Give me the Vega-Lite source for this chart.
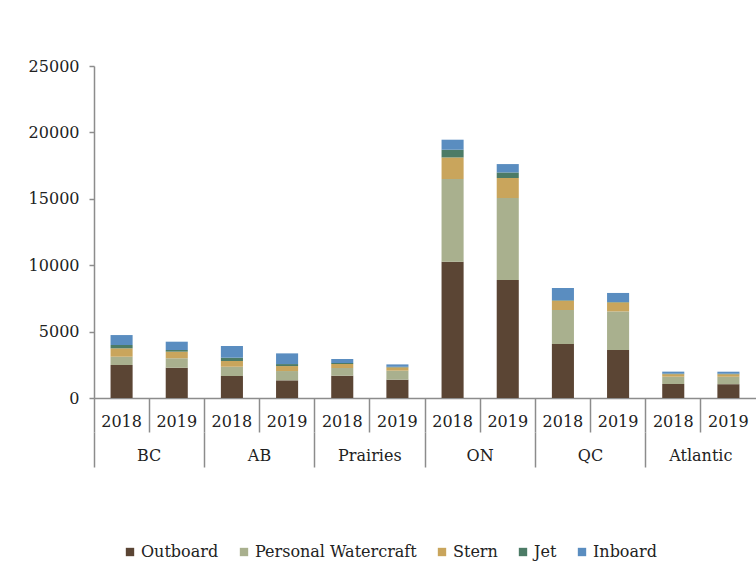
{
  "$schema": "https://vega.github.io/schema/vega-lite/v6.json",
  "autosize": "none",
  "padding": {"left": 94, "top": 66, "right": 0, "bottom": 165},
  "width": 662,
  "height": 332,
  "background": "white",
  "config": {
    "view": {"stroke": null},
    "font": "DejaVu Serif",
    "axis": {"labelFont": "DejaVu Serif", "labelFontSize": 16, "labelColor": "#222222", "domainColor": "#8c8c8c", "tickColor": "#8c8c8c", "grid": false, "title": null}
  },
  "data": {"values": [
    {"bar": "BC 2018", "region": "BC", "type": "Outboard", "rank": 1, "count": 2485},
    {"bar": "BC 2018", "region": "BC", "type": "Personal Watercraft", "rank": 2, "count": 625},
    {"bar": "BC 2018", "region": "BC", "type": "Stern", "rank": 3, "count": 630},
    {"bar": "BC 2018", "region": "BC", "type": "Jet", "rank": 4, "count": 250},
    {"bar": "BC 2018", "region": "BC", "type": "Inboard", "rank": 5, "count": 750},
    {"bar": "BC 2019", "region": "BC", "type": "Outboard", "rank": 1, "count": 2280},
    {"bar": "BC 2019", "region": "BC", "type": "Personal Watercraft", "rank": 2, "count": 710},
    {"bar": "BC 2019", "region": "BC", "type": "Stern", "rank": 3, "count": 500},
    {"bar": "BC 2019", "region": "BC", "type": "Jet", "rank": 4, "count": 125},
    {"bar": "BC 2019", "region": "BC", "type": "Inboard", "rank": 5, "count": 625},
    {"bar": "AB 2018", "region": "AB", "type": "Outboard", "rank": 1, "count": 1655},
    {"bar": "AB 2018", "region": "AB", "type": "Personal Watercraft", "rank": 2, "count": 700},
    {"bar": "AB 2018", "region": "AB", "type": "Stern", "rank": 3, "count": 430},
    {"bar": "AB 2018", "region": "AB", "type": "Jet", "rank": 4, "count": 250},
    {"bar": "AB 2018", "region": "AB", "type": "Inboard", "rank": 5, "count": 880},
    {"bar": "AB 2019", "region": "AB", "type": "Outboard", "rank": 1, "count": 1330},
    {"bar": "AB 2019", "region": "AB", "type": "Personal Watercraft", "rank": 2, "count": 700},
    {"bar": "AB 2019", "region": "AB", "type": "Stern", "rank": 3, "count": 375},
    {"bar": "AB 2019", "region": "AB", "type": "Jet", "rank": 4, "count": 150},
    {"bar": "AB 2019", "region": "AB", "type": "Inboard", "rank": 5, "count": 805},
    {"bar": "Prairies 2018", "region": "Prairies", "type": "Outboard", "rank": 1, "count": 1680},
    {"bar": "Prairies 2018", "region": "Prairies", "type": "Personal Watercraft", "rank": 2, "count": 580},
    {"bar": "Prairies 2018", "region": "Prairies", "type": "Stern", "rank": 3, "count": 300},
    {"bar": "Prairies 2018", "region": "Prairies", "type": "Jet", "rank": 4, "count": 75},
    {"bar": "Prairies 2018", "region": "Prairies", "type": "Inboard", "rank": 5, "count": 300},
    {"bar": "Prairies 2019", "region": "Prairies", "type": "Outboard", "rank": 1, "count": 1380},
    {"bar": "Prairies 2019", "region": "Prairies", "type": "Personal Watercraft", "rank": 2, "count": 680},
    {"bar": "Prairies 2019", "region": "Prairies", "type": "Stern", "rank": 3, "count": 250},
    {"bar": "Prairies 2019", "region": "Prairies", "type": "Jet", "rank": 4, "count": 40},
    {"bar": "Prairies 2019", "region": "Prairies", "type": "Inboard", "rank": 5, "count": 180},
    {"bar": "ON 2018", "region": "ON", "type": "Outboard", "rank": 1, "count": 10265},
    {"bar": "ON 2018", "region": "ON", "type": "Personal Watercraft", "rank": 2, "count": 6225},
    {"bar": "ON 2018", "region": "ON", "type": "Stern", "rank": 3, "count": 1625},
    {"bar": "ON 2018", "region": "ON", "type": "Jet", "rank": 4, "count": 580},
    {"bar": "ON 2018", "region": "ON", "type": "Inboard", "rank": 5, "count": 755},
    {"bar": "ON 2019", "region": "ON", "type": "Outboard", "rank": 1, "count": 8885},
    {"bar": "ON 2019", "region": "ON", "type": "Personal Watercraft", "rank": 2, "count": 6175},
    {"bar": "ON 2019", "region": "ON", "type": "Stern", "rank": 3, "count": 1505},
    {"bar": "ON 2019", "region": "ON", "type": "Jet", "rank": 4, "count": 420},
    {"bar": "ON 2019", "region": "ON", "type": "Inboard", "rank": 5, "count": 630},
    {"bar": "QC 2018", "region": "QC", "type": "Outboard", "rank": 1, "count": 4065},
    {"bar": "QC 2018", "region": "QC", "type": "Personal Watercraft", "rank": 2, "count": 2560},
    {"bar": "QC 2018", "region": "QC", "type": "Stern", "rank": 3, "count": 700},
    {"bar": "QC 2018", "region": "QC", "type": "Jet", "rank": 4, "count": 40},
    {"bar": "QC 2018", "region": "QC", "type": "Inboard", "rank": 5, "count": 920},
    {"bar": "QC 2019", "region": "QC", "type": "Outboard", "rank": 1, "count": 3615},
    {"bar": "QC 2019", "region": "QC", "type": "Personal Watercraft", "rank": 2, "count": 2905},
    {"bar": "QC 2019", "region": "QC", "type": "Stern", "rank": 3, "count": 680},
    {"bar": "QC 2019", "region": "QC", "type": "Jet", "rank": 4, "count": 30},
    {"bar": "QC 2019", "region": "QC", "type": "Inboard", "rank": 5, "count": 680},
    {"bar": "Atlantic 2018", "region": "Atlantic", "type": "Outboard", "rank": 1, "count": 1055},
    {"bar": "Atlantic 2018", "region": "Atlantic", "type": "Personal Watercraft", "rank": 2, "count": 550},
    {"bar": "Atlantic 2018", "region": "Atlantic", "type": "Stern", "rank": 3, "count": 190},
    {"bar": "Atlantic 2018", "region": "Atlantic", "type": "Jet", "rank": 4, "count": 40},
    {"bar": "Atlantic 2018", "region": "Atlantic", "type": "Inboard", "rank": 5, "count": 150},
    {"bar": "Atlantic 2019", "region": "Atlantic", "type": "Outboard", "rank": 1, "count": 1040},
    {"bar": "Atlantic 2019", "region": "Atlantic", "type": "Personal Watercraft", "rank": 2, "count": 560},
    {"bar": "Atlantic 2019", "region": "Atlantic", "type": "Stern", "rank": 3, "count": 190},
    {"bar": "Atlantic 2019", "region": "Atlantic", "type": "Jet", "rank": 4, "count": 40},
    {"bar": "Atlantic 2019", "region": "Atlantic", "type": "Inboard", "rank": 5, "count": 150}
  ]},
  "layer": [
    {
      "mark": {"type": "bar", "width": {"band": 0.4}},
      "encoding": {
        "x": {
          "field": "bar", "type": "nominal", "sort": null,
          "scale": {"type": "band", "paddingInner": 0, "paddingOuter": 0},
          "axis": {"labelAngle": 0, "labelExpr": "split(datum.label, ' ')[1]", "bandPosition": 0, "tickSize": 34, "labelPadding": -19, "labelFontSize": 16, "domainWidth": 1.5, "tickWidth": 1.5}
        },
        "y": {
          "field": "count", "type": "quantitative", "stack": "zero",
          "scale": {"domain": [0, 25000], "nice": false},
          "axis": {"values": [0, 5000, 10000, 15000, 20000, 25000], "format": "d", "tickSize": 5, "labelPadding": 10, "domainWidth": 1.5, "tickWidth": 1.5}
        },
        "order": {"field": "rank", "type": "quantitative", "sort": "ascending"},
        "color": {
          "field": "type", "type": "nominal",
          "sort": ["Outboard", "Personal Watercraft", "Stern", "Jet", "Inboard"],
          "scale": {"domain": ["Outboard", "Personal Watercraft", "Stern", "Jet", "Inboard"], "range": ["#5b4534", "#a9b08e", "#c9a55c", "#4c7b66", "#5a8dc0"]},
          "legend": {"title": null, "orient": "none", "direction": "horizontal", "legendX": 28, "legendY": 478, "symbolType": "square", "symbolSize": 70, "symbolStrokeWidth": 0, "labelFont": "DejaVu Serif", "labelFontSize": 16, "labelColor": "#222222", "labelLimit": 400, "columnPadding": 17, "labelOffset": 3}
        }
      }
    },
    {
      "mark": {"type": "bar", "opacity": 0},
      "encoding": {
        "x": {
          "field": "region", "type": "nominal", "sort": null,
          "scale": {"type": "band", "paddingInner": 0, "paddingOuter": 0},
          "axis": {"orient": "bottom", "offset": 34, "domain": false, "labelAngle": 0, "bandPosition": 0, "tickSize": 35, "labelPadding": -20, "labelFontSize": 16, "tickWidth": 1.5}
        }
      }
    }
  ],
  "resolve": {"scale": {"x": "independent"}, "axis": {"x": "independent"}}
}
